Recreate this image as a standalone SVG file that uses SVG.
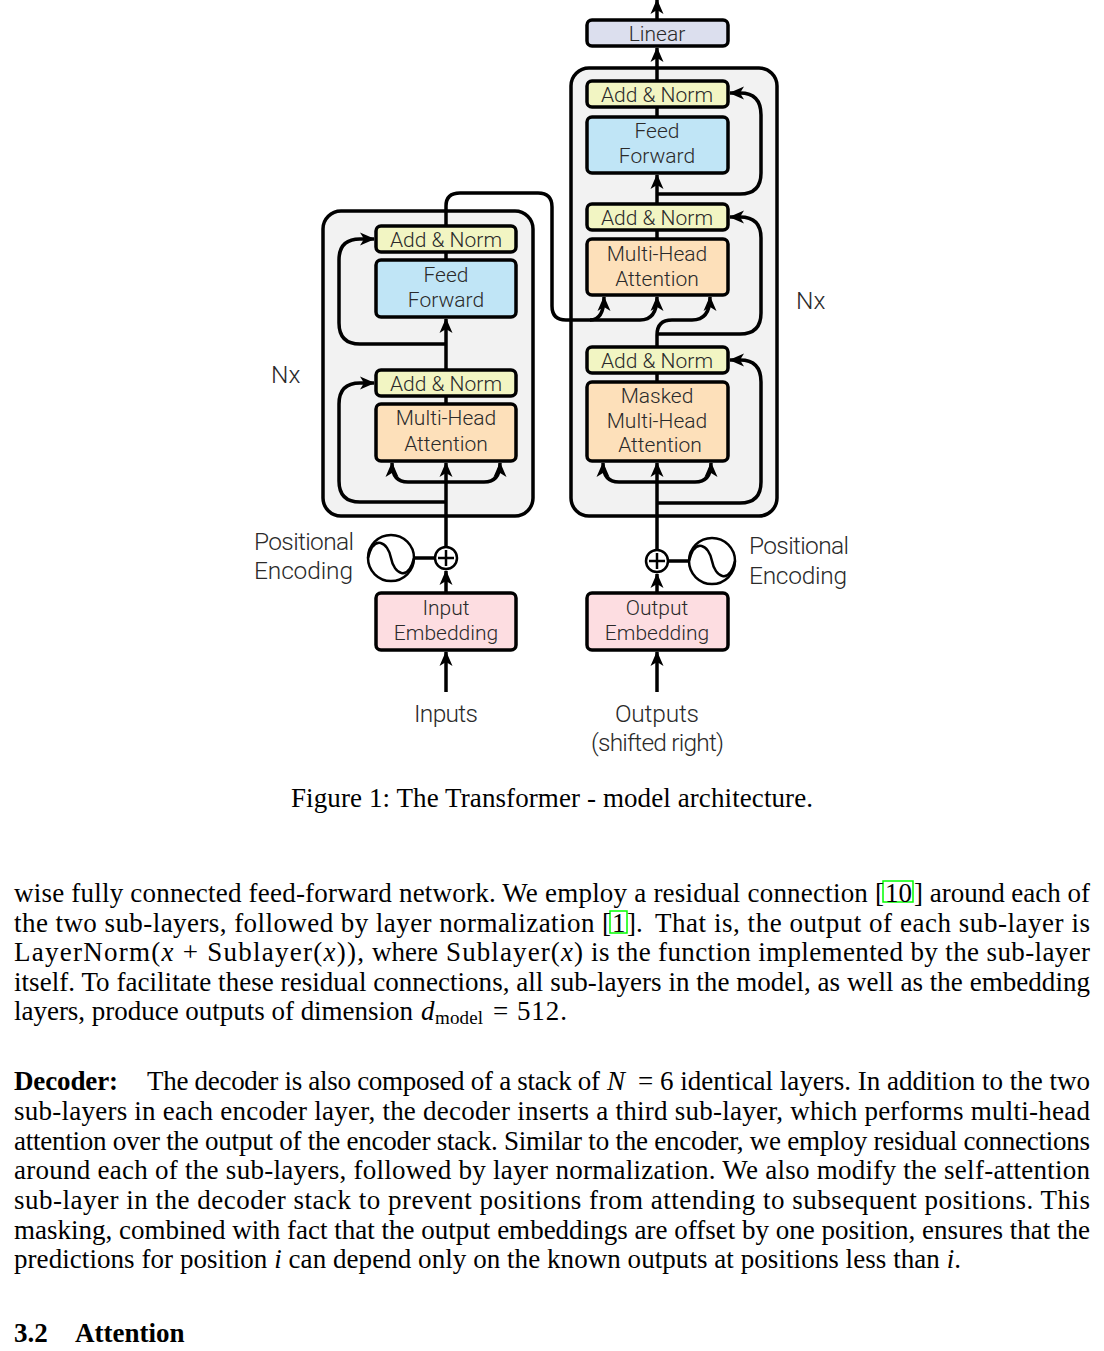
<svg xmlns="http://www.w3.org/2000/svg" width="1104" height="1351" viewBox="0 0 1104 1351">
<defs>
<marker id="ah" markerUnits="userSpaceOnUse" markerWidth="18" markerHeight="16" refX="14" refY="7" orient="auto"><path d="M0 0.5L15 7L0 13.5L4 7Z" fill="#000"/></marker>
</defs>
<style>
.b{stroke:#000;stroke-width:3.5}
.t{font-family:Roboto,"Liberation Sans",Arial,sans-serif;font-weight:300;font-size:21px;fill:#2a2a2a;text-anchor:middle}
.l{font-family:Roboto,"Liberation Sans",Arial,sans-serif;font-weight:300;font-size:24.5px;fill:#2a2a2a}
.p{font-family:"Liberation Serif","Times New Roman",serif;font-size:27px;fill:#000}
.c{fill:none;stroke:#000;stroke-width:3.5}
.a{marker-end:url(#ah)}
.g{fill:none;stroke:#000;stroke-width:2.5}
.i{font-style:italic}
.k{fill:none;stroke:#0f0;stroke-width:1.5}
</style>
<rect width="1104" height="1351" fill="#fff"/>
<rect id="encoder-stack" x="323" y="211" width="210" height="305" rx="18" fill="#f2f2f2" class="b"/>
<rect id="decoder-stack" x="571" y="68" width="206" height="448" rx="18" fill="#f2f2f2" class="b"/>
<g id="connectors">
<path class="c a" d="M446 692V652"/><path class="c a" d="M657 692V652"/>
<path class="c a" d="M446 593V571"/><path class="c a" d="M657 593V574"/>
<path class="c a" d="M446 547V463"/><path class="c a" d="M657 550V463"/>
<path class="c" d="M414 558H435M668 561H689"/>
<path class="c a" d="M446 502H360Q339 502 339 481V404Q339 383 360 383H374"/>
<path class="c a" d="M446 482H408Q392 482 392 463"/><path class="c a" d="M446 482H484Q500 482 500 463"/>
<path class="c" d="M446 396V404"/>
<path class="c a" d="M446 370V319"/>
<path class="c a" d="M446 344H360Q339 344 339 323V260Q339 239 360 239H374"/>
<path class="c" d="M446 252V260"/>
<path class="c" d="M446 226V206Q446 193 460 193H538Q552 193 552 207V306Q552 320 566 320H590"/>
<path class="c a" d="M590 320Q604 320 604 297"/>
<path class="c a" d="M590 320H640Q657 320 657 297"/>
<path class="c a" d="M657 346V335Q657 320 672 320H692Q710 320 710 297"/>
<path class="c a" d="M657 503H740Q761 503 761 482V382Q761 360 740 360H730"/>
<path class="c a" d="M657 482H619Q603 482 603 463"/><path class="c a" d="M657 482H695Q711 482 711 463"/>
<path class="c" d="M657 373V382"/>
<path class="c a" d="M657 334H740Q761 334 761 313V238Q761 217 740 217H730"/>
<path class="c" d="M657 230V239"/>
<path class="c a" d="M657 204V175"/>
<path class="c a" d="M657 194H740Q761 194 761 173V115Q761 93 740 93H730"/>
<path class="c" d="M657 107V117"/>
<path class="c a" d="M657 81V48"/>
<path class="c a" d="M657 20V0"/>
</g>
<g id="linear"><rect x="587" y="20" width="141" height="26" rx="5" fill="#dcdfee" class="b"/><text class="t" x="657" y="41">Linear</text></g>
<g id="dec-norm3"><rect x="587" y="81" width="141" height="26" rx="5" fill="#f2f5c3" class="b"/><text class="t" x="657" y="102">Add &amp; Norm</text></g>
<g id="dec-ff"><rect x="587" y="117" width="141" height="56" rx="5" fill="#c0e5f6" class="b"/><text class="t" x="657" y="138">Feed</text><text class="t" x="657" y="163">Forward</text></g>
<g id="dec-norm2"><rect x="587" y="204" width="141" height="26" rx="5" fill="#f2f5c3" class="b"/><text class="t" x="657" y="225">Add &amp; Norm</text></g>
<g id="dec-mha"><rect x="587" y="239" width="141" height="56" rx="5" fill="#fde0ba" class="b"/><text class="t" x="657" y="261">Multi-Head</text><text class="t" x="657" y="286">Attention</text></g>
<g id="dec-norm1"><rect x="587" y="347" width="141" height="26" rx="5" fill="#f2f5c3" class="b"/><text class="t" x="657" y="368">Add &amp; Norm</text></g>
<g id="dec-masked"><rect x="587" y="382" width="141" height="79" rx="5" fill="#fde0ba" class="b"/><text class="t" x="657" y="403">Masked</text><text class="t" x="657" y="428">Multi-Head</text><text class="t" x="660" y="452">Attention</text></g>
<g id="enc-norm2"><rect x="376" y="226" width="140" height="26" rx="5" fill="#f2f5c3" class="b"/><text class="t" x="446" y="247">Add &amp; Norm</text></g>
<g id="enc-ff"><rect x="376" y="260" width="140" height="57" rx="5" fill="#c0e5f6" class="b"/><text class="t" x="446" y="282">Feed</text><text class="t" x="446" y="307">Forward</text></g>
<g id="enc-norm1"><rect x="376" y="370" width="140" height="26" rx="5" fill="#f2f5c3" class="b"/><text class="t" x="446" y="391">Add &amp; Norm</text></g>
<g id="enc-mha"><rect x="376" y="404" width="140" height="57" rx="5" fill="#fde0ba" class="b"/><text class="t" x="446" y="425">Multi-Head</text><text class="t" x="446" y="451">Attention</text></g>
<g id="input-embedding"><rect x="376" y="593" width="140" height="57" rx="5" fill="#fddde1" class="b"/><text class="t" x="446" y="615">Input</text><text class="t" x="446" y="640">Embedding</text></g>
<g id="output-embedding"><rect x="587" y="593" width="141" height="57" rx="5" fill="#fddde1" class="b"/><text class="t" x="657" y="615">Output</text><text class="t" x="657" y="640">Embedding</text></g>
<g id="enc-add"><circle cx="446" cy="558" r="11" fill="#fff" class="g"/><path class="g" stroke-width="2" d="M438 558H454M446 550V566"/></g>
<g id="dec-add"><circle cx="657" cy="561" r="11" fill="#fff" class="g"/><path class="g" d="M649 561H665M657 553V569"/></g>
<g id="enc-pe"><circle cx="391" cy="558" r="23" fill="#fff" class="g"/><path class="g" d="M368 558C374 534 388 542 391 558C394 574 408 582 414 558"/></g>
<g id="dec-pe"><circle cx="712" cy="561" r="23" fill="#fff" class="g"/><path class="g" d="M689 561C695 537 709 545 712 561C715 577 729 585 735 561"/></g>
<text class="l" x="271" y="383">Nx</text>
<text class="l" x="796" y="309">Nx</text>
<text class="l" x="254" y="550" textLength="100">Positional</text><text class="l" x="254" y="579" textLength="99">Encoding</text>
<text class="l" x="749" y="554" textLength="100">Positional</text><text class="l" x="749" y="584" textLength="98">Encoding</text>
<text class="l" x="414" y="722" textLength="64">Inputs</text>
<text class="l" x="615" y="722" textLength="84">Outputs</text>
<text class="l" x="591" y="751" textLength="133">(shifted right)</text>
<g id="body">
<text class="p" x="291" y="807" textLength="522">Figure 1: The Transformer - model architecture.</text>
<rect x="883" y="881" width="30" height="21" class="k"/>
<rect x="610" y="911" width="17" height="22" class="k"/>
<text class="p" x="14" y="902" textLength="870">wise fully connected feed-forward network. We employ a residual connection [</text>
<text class="p" x="885" y="902" textLength="27">10</text>
<text class="p" x="914" y="902" textLength="176">] around each of</text>
<text class="p" x="14" y="932" textLength="597">the two sub-layers, followed by layer normalization [</text>
<text class="p" x="612" y="932">1</text>
<text class="p" x="627" y="932">].</text>
<text class="p" x="655" y="932" textLength="435">That is, the output of each sub-layer is</text>
<text class="p" x="14" y="961" textLength="350">LayerNorm(<tspan class="i">x</tspan> + Sublayer(<tspan class="i">x</tspan>)),</text>
<text class="p" x="372" y="961" textLength="66">where</text>
<text class="p" x="446" y="961" textLength="137">Sublayer(<tspan class="i">x</tspan>)</text>
<text class="p" x="591" y="961" textLength="499">is the function implemented by the sub-layer</text>
<text class="p" x="14" y="991" textLength="1076">itself. To facilitate these residual connections, all sub-layers in the model, as well as the embedding</text>
<text class="p" x="14" y="1020" textLength="399">layers, produce outputs of dimension</text>
<text class="p i" x="421" y="1020">d</text>
<text class="p" x="435" y="1024" textLength="48" style="font-size:19px">model</text>
<text class="p" x="493" y="1020" textLength="74">= 512.</text>
<text class="p" x="14" y="1090" font-weight="bold" textLength="104">Decoder:</text>
<text class="p" x="147" y="1090" textLength="453">The decoder is also composed of a stack of</text>
<text class="p i" x="607" y="1090">N</text>
<text class="p" x="638" y="1090" textLength="452">= 6 identical layers. In addition to the two</text>
<text class="p" x="14" y="1120" textLength="1076">sub-layers in each encoder layer, the decoder inserts a third sub-layer, which performs multi-head</text>
<text class="p" x="14" y="1150" textLength="1076">attention over the output of the encoder stack. Similar to the encoder, we employ residual connections</text>
<text class="p" x="14" y="1179" textLength="1076">around each of the sub-layers, followed by layer normalization. We also modify the self-attention</text>
<text class="p" x="14" y="1209" textLength="1076">sub-layer in the decoder stack to prevent positions from attending to subsequent positions.  This</text>
<text class="p" x="14" y="1239" textLength="1076">masking, combined with fact that the output embeddings are offset by one position, ensures that the</text>
<text class="p" x="14" y="1268" textLength="947">predictions for position <tspan class="i">i</tspan> can depend only on the known outputs at positions less than <tspan class="i">i</tspan>.</text>
<text class="p" x="14" y="1342" font-weight="bold">3.2</text><text class="p" x="75" y="1342" font-weight="bold">Attention</text>
</g>
</svg>
